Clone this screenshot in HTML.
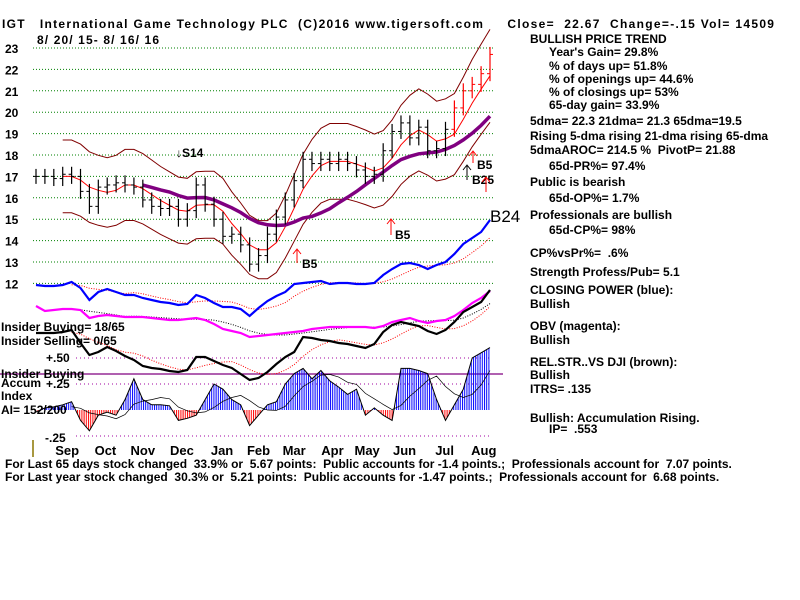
<!DOCTYPE html>
<html><head><meta charset="utf-8">
<style>
body{margin:0;background:#fff;width:800px;height:600px;overflow:hidden}
svg{display:block;font-family:"Liberation Sans",sans-serif;font-weight:bold}
.t{font-size:12px;fill:#000;white-space:pre}
text{white-space:pre}
</style></head>
<body>
<svg id="c" width="800" height="600" xml:space="preserve">
<defs>
<pattern id="bluestripe" width="2.2" height="10" patternUnits="userSpaceOnUse"><rect x="0" y="0" width="1" height="10" fill="#0000ff"/></pattern>
<pattern id="redstripe" width="2.2" height="10" patternUnits="userSpaceOnUse"><rect x="0" y="0" width="1" height="10" fill="#ff0000"/></pattern>
<clipPath id="above"><rect x="0" y="0" width="800" height="410"/></clipPath>
<clipPath id="below"><rect x="0" y="410" width="800" height="200"/></clipPath>
</defs>
<g id="grid"></g>
<g id="yticks"></g>
<g id="marks"></g>

<text class="t" x="2" y="28" font-size="13" textLength="772" lengthAdjust="spacing">IGT   International Game Technology PLC  (C)2016 www.tigersoft.com     Close=  22.67  Change=-.15 Vol= 14509</text>
<text class="t" x="37" y="44" font-size="13" textLength="122" lengthAdjust="spacing">8/ 20/ 15- 8/ 16/ 16</text>

<g class="t">
<text x="530" y="43">BULLISH PRICE TREND</text>
<text x="549" y="56">Year's Gain= 29.8%</text>
<text x="549" y="70">% of days up= 51.8%</text>
<text x="549" y="83">% of openings up= 44.6%</text>
<text x="549" y="96">% of closings up= 53%</text>
<text x="549" y="109">65-day gain= 33.9%</text>
<text x="530" y="125">5dma= 22.3 21dma= 21.3 65dma=19.5</text>
<text x="530" y="140">Rising 5-dma rising 21-dma rising 65-dma</text>
<text x="530" y="154">5dmaAROC= 214.5 %  PivotP= 21.88</text>
<text x="549" y="170">65d-PR%= 97.4%</text>
<text x="530" y="186">Public is bearish</text>
<text x="549" y="202">65d-OP%= 1.7%</text>
<text x="530" y="219">Professionals are bullish</text>
<text x="549" y="234">65d-CP%= 98%</text>
<text x="530" y="257">CP%vsPr%=  .6%</text>
<text x="530" y="276">Strength Profess/Pub= 5.1</text>
<text x="530" y="294">CLOSING POWER (blue):</text>
<text x="530" y="308">Bullish</text>
<text x="530" y="330">OBV (magenta):</text>
<text x="530" y="344">Bullish</text>
<text x="530" y="366">REL.STR..VS DJI (brown):</text>
<text x="530" y="379">Bullish</text>
<text x="530" y="393">ITRS= .135</text>
<text x="530" y="422">Bullish: Accumulation Rising.</text>
<text x="549" y="433">IP=  .553</text>
</g>

<g class="t">
<text x="1" y="331">Insider Buying= 18/65</text>
<text x="1" y="345">Insider Selling= 0/65</text>
<text x="46" y="362">+.50</text>
<text x="1" y="378">Insider Buying</text>
<text x="1" y="387">Accum</text>
<text x="46" y="388">+.25</text>
<text x="1" y="400">Index</text>
<text x="1" y="414">AI= 152/200</text>
<text x="45" y="442">-.25</text>
</g>
<line x1="33" y1="440" x2="33" y2="457" stroke="#8b7500" stroke-width="1.5"/>

<g class="t" id="xlab"></g>

<g class="t">
<text x="5" y="468">For Last 65 days stock changed  33.9% or  5.67 points:  Public accounts for -1.4 points.;  Professionals account for  7.07 points.</text>
<text x="5" y="481">For Last year stock changed  30.3% or  5.21 points:  Public accounts for -1.47 points.;  Professionals account for  6.68 points.</text>
</g>

<g>
<text class="t" x="176" y="157" font-size="13">↓S14</text>
<line x1="297" y1="250" x2="297" y2="263" stroke="#f00"/><path d="M293,254 L297,249 L301,254" fill="none" stroke="#f00"/>
<text class="t" x="302" y="268" font-size="13">B5</text>
<line x1="391" y1="220" x2="391" y2="235" stroke="#f00"/><path d="M387,224 L391,219 L395,224" fill="none" stroke="#f00"/>
<text class="t" x="395" y="239" font-size="13">B5</text>
<line x1="473" y1="152" x2="473" y2="163" stroke="#f00"/><path d="M469,156 L473,151 L477,156" fill="none" stroke="#f00"/>
<text class="t" x="477" y="169" font-size="13">B5</text>
<line x1="467" y1="166" x2="467" y2="180" stroke="#000"/><path d="M463,170 L467,165 L471,170" fill="none" stroke="#000"/>
<text class="t" x="472" y="184" font-size="13">B25</text>
<line x1="486" y1="178" x2="486" y2="192" stroke="#f00"/><path d="M482,182 L486,177 L490,182" fill="none" stroke="#f00"/>
<text x="490" y="222" font-size="17" font-weight="normal" fill="#000">B24</text>
</g>
</svg>
<script>
// weekly closes, 8/20/15 .. 8/16/16
const closes=[17.0,17.0,16.9,17.1,17.0,16.3,15.6,16.5,16.6,16.7,16.6,16.5,15.9,15.6,15.5,15.6,15.0,15.4,16.6,15.7,15.0,14.2,14.3,13.8,12.9,13.3,14.3,15.1,15.9,16.8,17.8,17.6,17.8,17.6,17.8,17.6,17.3,17.0,17.1,18.2,19.1,19.5,18.8,19.3,18.2,18.3,19.2,20.2,21.0,21.3,21.8,22.7];
// closing power (indicator units)
const cp=[33,32,32,33,36,30,18,26,29,26,23,23,20,18,16,15,13,14,23,20,15,11,11,9,2,10,17,22,26,34,35,36,37,34,35,35,34,34,35,43,49,54,55,53,49,53,56,64,74,80,86,98];
// OBV (indicator units)
const obv=[54,49,50,51,51,50,42,44,45,44,43,43,43,42,41,40,40,41,42,40,36,31,29,27,23,24,25,26,27,28,29,31,32,33,33,33,33,33,32,34,38,40,42,39,37,39,40,44,50,57,62,69];
// relative strength vs DJI (indicator units)
const rs=[67,67,67,68,70,57,45,48,53,49,44,40,34,32,31,29,28,30,43,43,39,35,32,26,20,22,28,36,43,48,63,62,60,59,57,56,54,52,56,68,75,78,76,74,69,66,70,78,88,93,98,110];
// accumulation index
const ai=[-0.02,0.02,0.03,0.05,0.08,-0.1,-0.2,-0.05,-0.02,-0.05,0.1,0.3,0.1,0.05,0.05,0.04,-0.1,-0.08,-0.05,0.1,0.25,0.2,0.1,0.05,-0.15,-0.05,0.05,0.08,0.25,0.35,0.4,0.3,0.38,0.28,0.22,0.15,0.2,-0.05,0.02,-0.05,-0.1,0.4,0.4,0.38,0.35,0.1,-0.1,0.05,0.2,0.5,0.55,0.6];
const priceTicks=[23,22,21,20,19,18,17,16,15,14,13,12];
const months=["Sep","Oct","Nov","Dec","Jan","Feb","Mar","Apr","May","Jun","Jul","Aug"];
const monthWeek=[3.5,7.8,12,16.4,20.9,25,29,33.3,37.2,41.4,45.9,50.3];

const NS="http://www.w3.org/2000/svg";
const X=i=>36+i*(454/(closes.length-1));
const Y=p=>48+(23-p)*21.4;
const Ycp=v=>318-v;
const Yobv=v=>360-v;
const Yrs=v=>400-v;
const Ya=v=>410-v*104;
function el(tag,attrs,parent){const e=document.createElementNS(NS,tag);for(const k in attrs)e.setAttribute(k,attrs[k]);parent.appendChild(e);return e;}
function ma(arr,n){return arr.map((v,i)=>{if(i<n-1)return null;let s=0;for(let j=i-n+1;j<=i;j++)s+=arr[j];return s/n;});}
function pathOf(arr,yf,start){let d="";arr.forEach((v,i)=>{if(v==null||i<(start||0))return;d+=(d?"L":"M")+X(i).toFixed(1)+","+yf(v).toFixed(1);});return d;}
const grid=document.getElementById('grid'),yt=document.getElementById('yticks'),mk=document.getElementById('marks'),xl=document.getElementById('xlab');

priceTicks.forEach(p=>{
  const g=el('line',{x1:33,x2:493,y1:Y(p),y2:Y(p),stroke:'#008000','stroke-dasharray':'1,2'},grid);
  
  
  const t=el('text',{x:5,y:Y(p)+5,class:'t','font-size':'13'},yt);t.textContent=p;
  
  
});
[0.5,0.25,-0.25].forEach(v=>{
  const l=el('line',{x1:76,x2:492,y1:Ya(v),y2:Ya(v),stroke:'#a000a0','stroke-dasharray':'1,3'},grid);
  
  
});
const ib=el('line',{x1:0,x2:503,y1:374,y2:374,stroke:'#800080','stroke-width':1.3},grid);



months.forEach((m,k)=>{const t=el('text',{x:X(monthWeek[k]),y:455,'text-anchor':'middle','font-size':'13'},xl);t.textContent=m;
  
  });

const m21=ma(closes,4), m65=ma(closes,13);
const up=m21.map(v=>v==null?null:v*1.1), lo=m21.map(v=>v==null?null:v*0.9);
[[up,'#800000','upper-band'],[lo,'#800000','lower-band'],[m21,'#ff0000','ma21-line']].forEach(([a,c,n])=>{
  const p=el('path',{d:pathOf(a,Y),fill:'none',stroke:c,'stroke-width':1},mk);
  
  
});
const p65=el('path',{d:pathOf(m65,Y),fill:'none',stroke:'#800080','stroke-width':3.5},mk);



closes.forEach((c,i)=>{
  const prev=i?closes[i-1]:c;
  const hi=Math.max(c,prev)+0.35, lw=Math.min(c,prev)-0.35;
  const col=(i>=47&&c>prev)?'#ff0000':'#000';
  const b=el('line',{x1:X(i),x2:X(i),y1:Y(hi),y2:Y(lw),stroke:col,'stroke-width':1.2},mk);
  
  
  el('line',{x1:X(i),x2:X(i)+3,y1:Y(c),y2:Y(c),stroke:col},mk);
  el('line',{x1:X(i)-3,x2:X(i),y1:Y(prev),y2:Y(prev),stroke:col},mk);
});

let ad="M"+X(0)+","+Ya(0);ai.forEach((v,i)=>ad+="L"+X(i).toFixed(1)+","+Ya(v).toFixed(1));ad+="L"+X(ai.length-1)+","+Ya(0)+"Z";
const aP=el('path',{d:ad,fill:'url(#bluestripe)','clip-path':'url(#above)'},mk);


const aN=el('path',{d:ad,fill:'url(#redstripe)','clip-path':'url(#below)'},mk);


const aL=el('path',{d:pathOf(ai,Ya),fill:'none',stroke:'#000','stroke-width':1},mk);


const aM=el('path',{d:pathOf(ma(ai,5),Ya),fill:'none',stroke:'#000','stroke-width':0.7},mk);



[[cp,Ycp,'#0000ff','closing-power-line','#ff0000'],[obv,Yobv,'#ff00ff','obv-line','#000'],[rs,Yrs,'#000','rel-strength-line','#ff0000']].forEach(([a,yf,c,n,mc])=>{
  const d=el('path',{d:pathOf(ma(a,5),yf),fill:'none',stroke:mc,'stroke-width':1,'stroke-dasharray':'1,1.5'},mk);
  
  
  const p=el('path',{d:pathOf(a,yf),fill:'none',stroke:c,'stroke-width':2.2},mk);
  
  
});
</script>
</body></html>
